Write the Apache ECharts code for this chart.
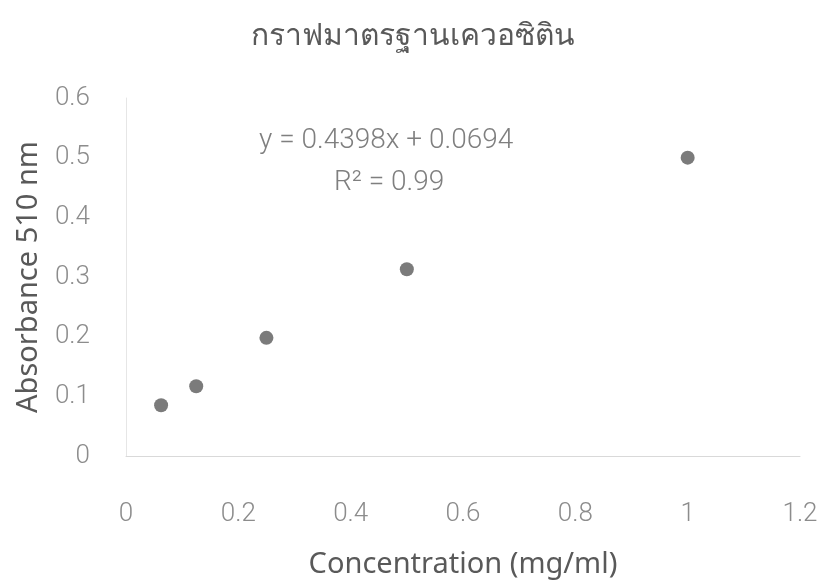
<!DOCTYPE html>
<html>
<head>
<meta charset="utf-8">
<script src="https://cdn.jsdelivr.net/npm/echarts@6/dist/echarts.min.js"></script>
<style>html,body{margin:0;padding:0;background:#fff}#c{width:826px;height:584px}</style>
</head>
<body>
<div id="c"></div>
<script>
const titleText = 'กราฟมาตรฐานเควอซิติน';
const xName = 'Concentration (mg/ml)';
const yName = 'Absorbance 510 nm';
const concentration = [0.0625, 0.125, 0.25, 0.5, 1];
const absorbance = [0.085, 0.117, 0.198, 0.313, 0.5];
const equationText = 'y = 0.4398x + 0.0694';
const r2Text = 'R² = 0.99';

const points = concentration.map((x, i) => [x, absorbance[i]]);
const chart = echarts.init(document.getElementById('c'));
const lightFont = 'Roboto, sans-serif';
chart.setOption({
  backgroundColor: '#ffffff',
  animation: false,
  title: [
    { text: titleText, left: 'center', top: 16,
      textStyle: { fontSize: 30, fontWeight: 'normal', color: '#595959', fontFamily: '"Noto Sans", sans-serif' } },
    { text: equationText, left: 254, top: 122,
      textStyle: { fontSize: 28, fontWeight: 300, color: '#7f7f7f', fontFamily: lightFont } },
    { text: r2Text, left: 329, top: 164,
      textStyle: { fontSize: 28, fontWeight: 300, color: '#7f7f7f', fontFamily: lightFont } }
  ],
  grid: { left: 126, right: 26, top: 98, bottom: 127, containLabel: false },
  xAxis: {
    type: 'value', min: 0, max: 1.2, interval: 0.2,
    name: xName, nameLocation: 'middle', nameGap: 94,
    nameTextStyle: { fontSize: 29, color: '#595959', fontFamily: '"Noto Sans", sans-serif' },
    axisLine: { show: true, lineStyle: { color: '#d9d9d9', width: 1 } },
    axisTick: { show: false },
    splitLine: { show: false },
    axisLabel: { margin: 45, fontSize: 26, fontWeight: 300, color: '#8c8c8c', fontFamily: lightFont }
  },
  yAxis: {
    type: 'value', min: 0, max: 0.6, interval: 0.1,
    name: yName, nameLocation: 'middle', nameGap: 83,
    nameTextStyle: { fontSize: 29, color: '#595959', fontFamily: '"Noto Sans", sans-serif' },
    axisLine: { show: true, lineStyle: { color: '#e6e6e6', width: 1 } },
    axisTick: { show: false },
    splitLine: { show: false },
    axisLabel: { margin: 36, fontSize: 26, fontWeight: 300, color: '#8c8c8c', fontFamily: lightFont }
  },
  series: [{
    type: 'scatter', data: points, symbol: 'circle', symbolSize: 14,
    itemStyle: { color: '#5a5a5a' }
  }]
});
</script>
</body>
</html>
